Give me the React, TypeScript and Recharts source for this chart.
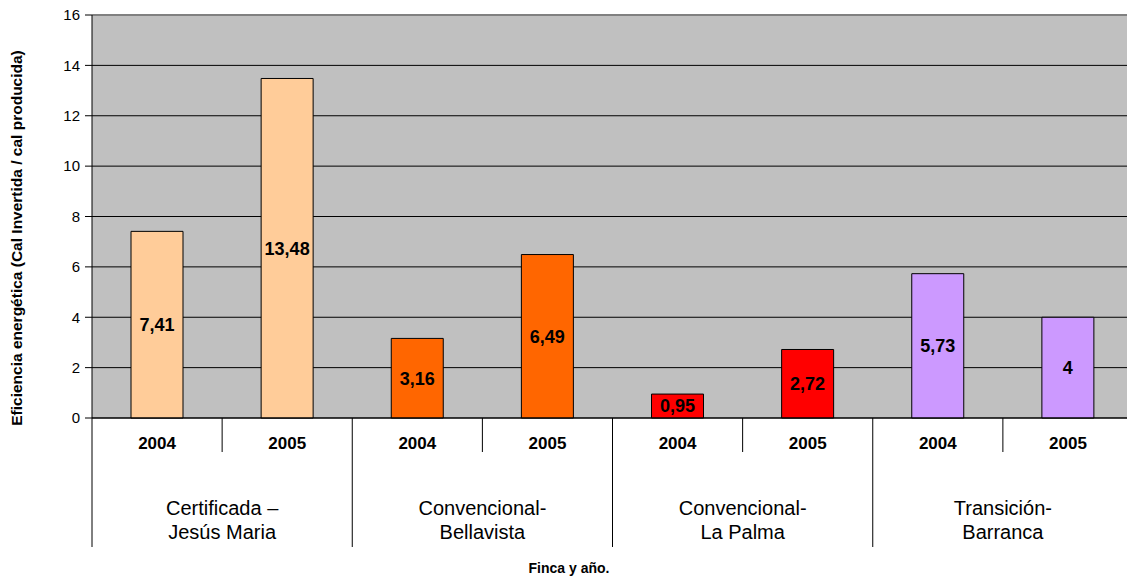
import { BarChart, Bar, Cell, XAxis, YAxis, CartesianGrid, LabelList, ReferenceLine } from 'recharts';

const FONT = "Arial, 'Liberation Sans', sans-serif";

const groups = ['Certificada –\nJesús Maria', 'Convencional-\nBellavista', 'Convencional-\nLa Palma', 'Transición-\nBarranca'];
const years = ['2004', '2005', '2004', '2005', '2004', '2005', '2004', '2005'];
const values = [7.41, 13.48, 3.16, 6.49, 0.95, 2.72, 5.73, 4];
const barColors = ['#FFCC99', '#FFCC99', '#FF6600', '#FF6600', '#FF0000', '#FF0000', '#CC99FF', '#CC99FF'];
const yTicks = [0, 2, 4, 6, 8, 10, 12, 14, 16];

// the plot runs a little past the right edge of the picture
const W = 1127;
const CHART_W = 1133;
const H = 582;
const Y_AXIS_W = 92;
const X_AXIS_H = 164;
const TOP = 15;
const PLOT_W = CHART_W - Y_AXIS_W;
const SLOT = PLOT_W / years.length;

const data = years.map((year, i) => ({
  key: `${i}`,
  year,
  group: groups[Math.floor(i / 2)],
  value: values[i],
  color: barColors[i],
}));

function YearTick(props: any) {
  const { x, y, payload } = props;
  const i = payload.index;
  const d = data[i];
  const left = x - SLOT / 2;
  const right = x + SLOT / 2;
  const first = i % 2 === 0;
  const lines = d.group.split('\n');
  return (
    <g>
      <text x={x} y={y + 31} textAnchor="middle" fontFamily={FONT} fontSize={17} fontWeight="bold" fill="#000">
        {d.year}
      </text>
      {first ? (
        <>
          <line x1={left} y1={y} x2={left} y2={y + 129} stroke="#000" />
          <text textAnchor="middle" fontFamily={FONT} fontSize={20} fill="#000">
            {lines.map((l: string, k: number) => (
              <tspan key={k} x={right} y={y + 97 + k * 24}>{l}</tspan>
            ))}
          </text>
        </>
      ) : (
        <line x1={left} y1={y} x2={left} y2={y + 34} stroke="#000" />
      )}
    </g>
  );
}

export default function App() {
  return (
    <div style={{ position: 'absolute', left: 0, top: 0, width: W, height: H, background: '#fff', overflow: 'hidden' }}>
      <BarChart
        width={CHART_W}
        height={H}
        data={data}
        margin={{ top: TOP, right: 0, left: 0, bottom: 0 }}
        barCategoryGap="0%"
      >
        <CartesianGrid vertical={false} stroke="#000" fill="#C0C0C0" fillOpacity={1} />
        <XAxis
          dataKey="key"
          height={X_AXIS_H}
          tickSize={0}
          tickMargin={0}
          axisLine={{ stroke: '#000' }}
          tick={<YearTick />}
          interval={0}
          label={{
            content: () => (
              <text x={569} y={573} textAnchor="middle" fontFamily={FONT} fontSize={14} fontWeight="bold" fill="#000">
                Finca y año.
              </text>
            ),
          }}
        />
        <YAxis
          width={Y_AXIS_W}
          domain={[0, 16]}
          ticks={yTicks}
          interval={0}
          tickSize={7}
          tickMargin={5}
          axisLine={{ stroke: '#000' }}
          tickLine={{ stroke: '#000' }}
          tick={{ fontFamily: FONT, fontSize: 15, fill: '#000' }}
          label={{
            content: () => (
              <text
                x={22}
                y={238}
                transform="rotate(-90 22 238)"
                textAnchor="middle"
                fontFamily={FONT}
                fontSize={15.5}
                fontWeight="bold"
                fill="#000"
              >
                Eficiencia energética (Cal Invertida / cal producida)
              </text>
            ),
          }}
        />
        <ReferenceLine y={16} stroke="#808080" strokeWidth={2} />
        <Bar dataKey="value" barSize={52} stroke="#000" strokeWidth={1} isAnimationActive={false}>
          {data.map((d, i) => (
            <Cell key={`cell-${i}`} fill={d.color} />
          ))}
          <LabelList
            dataKey="value"
            position="center"
            formatter={(v: any) => String(v).replace('.', ',')}
            style={{ fontFamily: FONT, fontSize: 18, fontWeight: 'bold', fill: '#000' }}
          />
        </Bar>
      </BarChart>
    </div>
  );
}
